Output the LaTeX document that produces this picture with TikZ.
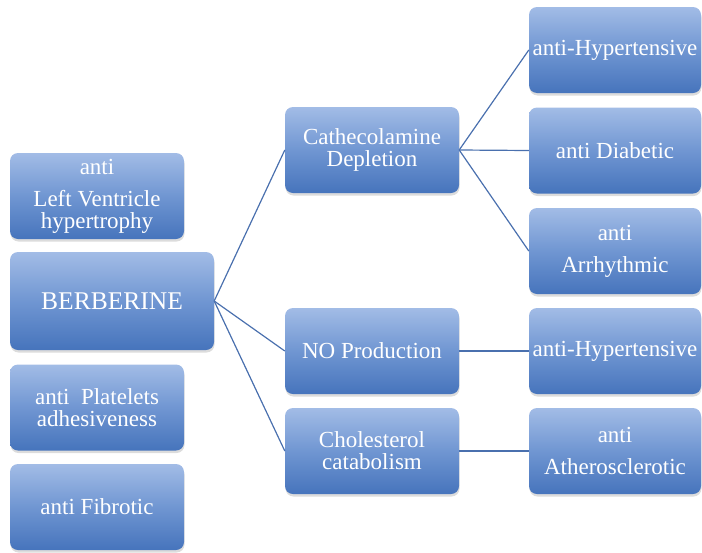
\documentclass[tikz,border=0pt]{standalone}
\usepackage{fontspec}
\setmainfont{Liberation Serif}
\usetikzlibrary{shadows}
\definecolor{boxtop}{RGB}{162,188,230}
\definecolor{boxmid}{RGB}{112,150,210}
\definecolor{boxbot}{RGB}{70,116,188}
\definecolor{linkblue}{RGB}{74,112,174}
\tikzset{
  box/.style={rectangle, rounded corners=8pt, draw=none,
    top color=boxtop, bottom color=boxbot, middle color=boxmid,
    drop shadow={opacity=0.28, shadow xshift=0.5pt, shadow yshift=-2.5pt},
    text=white, align=center, inner sep=2pt,
    font=\fontsize{23}{22}\selectfont},
  leftbox/.style={box, minimum width=174pt, minimum height=86pt},
  midbox/.style={box, minimum width=174pt, minimum height=86pt},
  rightbox/.style={box, minimum width=172pt, minimum height=86pt},
  link/.style={draw=linkblue, line width=1.2pt}
}
\begin{document}
\begin{tikzpicture}[x=1pt, y=-1pt]
  \useasboundingbox (0,0) rectangle (702,552);

  % left column
  \node[leftbox] (lvh) at (97,196) {anti\\[10pt]Left Ventricle\\hypertrophy};
  \node[box, minimum width=204pt, minimum height=98pt,
        font=\fontsize{25.5}{26}\selectfont] (berb) at (112,301) {BERBERINE};
  \node[leftbox] (plat) at (97,407.5) {anti\hspace{0.25em} Platelets\\adhesiveness};
  \node[leftbox] (fib) at (97,507) {anti Fibrotic};

  % middle column
  \node[midbox] (cath) at (372,150) {Cathecolamine\\Depletion};
  \node[midbox] (no) at (372,351) {NO Production};
  \node[midbox] (chol) at (372,451) {Cholesterol\\catabolism};

  % right column
  \node[rightbox] (hyp1) at (615,50) {anti-Hypertensive};
  \node[rightbox] (diab) at (615,150.5) {anti Diabetic};
  \node[rightbox] (arr) at (615,251) {anti\\[10pt]Arrhythmic};
  \node[rightbox] (hyp2) at (615,351) {anti-Hypertensive};
  \node[rightbox] (ath) at (615,451) {anti\\[10pt]Atherosclerotic};

  % connectors
  \draw[link] (berb.east) -- (cath.west);
  \draw[link] (berb.east) -- (no.west);
  \draw[link] (berb.east) -- (chol.west);
  \draw[link] (cath.east) -- (hyp1.west);
  \draw[link] (cath.east) -- (diab.west);
  \draw[link] (cath.east) -- (arr.west);
  \draw[link] (no.east) -- (hyp2.west);
  \draw[link] (chol.east) -- (ath.west);
\end{tikzpicture}
\end{document}
